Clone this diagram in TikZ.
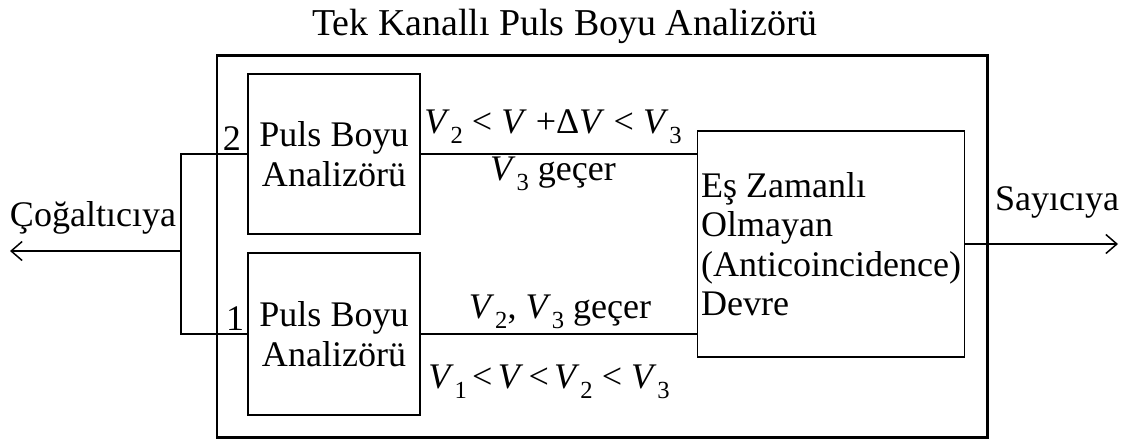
\documentclass[tikz,border=0pt]{standalone}
\usepackage{fontspec}
\setmainfont{Liberation Serif}
\usetikzlibrary{arrows.meta, positioning, calc}
\newcommand{\Vs}[1]{\textit{V}\kern0.5pt\raisebox{-0.28em}{\fontsize{14}{14}\selectfont #1}}
\tikzset{
  every picture/.style={line width=0.85pt},
  box/.style={draw, align=center, inner sep=2pt},
  arrow/.style={-{Straight Barb[length=0.22cm, width=0.38cm]}, line width=0.85pt},
  frame/.style={draw, line width=1.7pt},
  lbl/.style={anchor=base, inner sep=0pt},
}

\begin{document}
\begin{tikzpicture}[x=0.02cm, y=-0.02cm,
  every node/.append style={font=\fontsize{20.5}{22.5}\selectfont}]
  \useasboundingbox (0,0) rectangle (1128,441);
  % outer frame and title
  \draw[frame] (217,55) rectangle (987,437);
  \node[lbl, font=\fontsize{21.6}{24}\selectfont] (title) at (565,35) {Tek Kanallı Puls Boyu Analizörü};
  % analyser boxes
  \node[box, minimum width=3.44cm, minimum height=3.2cm] (pba2) at (334,154) {Puls Boyu\\Analizörü};
  \node[box, minimum width=3.44cm, minimum height=3.24cm] (pba1) at (334,334) {Puls Boyu\\Analizörü};
  \node[box, align=left, minimum width=5.32cm, minimum height=4.52cm] (anti) at (831,244)
    {Eş Zamanlı\\Olmayan\\(Anticoincidence)\\Devre};
  \node[lbl] (n2) at (232,150) {2};
  \node[lbl] (n1) at (235,330) {1};
  % connections
  \coordinate (split) at (181,251);
  \coordinate (cogal) at (10,251);
  \coordinate (sayac) at (1118,244);
  \draw (pba2.west) -| (split) |- (pba1.west);
  \draw[arrow] (split) -- (cogal);
  \draw (pba2.east) -- (pba2.east -| anti.west);
  \draw (pba1.east) -- (pba1.east -| anti.west);
  \draw[arrow] (anti.east) -- (sayac);
  % labels
  \node[lbl] (lcogal) at (93,226) {Çoğaltıcıya};
  \node[lbl] (lsayac) at (1057,210) {Sayıcıya};
  \node[lbl] (ust1) at (553,133) {\Vs{2} < \textit{V} +Δ\textit{V} < \Vs{3}};
  \node[lbl] (ust2) at (553,180) {\Vs{3} geçer};
  \node[lbl] (alt1) at (560,318) {\Vs{2}, \Vs{3} geçer};
  \node[lbl] (alt2) at (549,388) {\Vs{1}\kern3pt<\kern3pt\textit{V}\kern3pt<\kern3pt\Vs{2} < \Vs{3}};
\end{tikzpicture}
\end{document}
